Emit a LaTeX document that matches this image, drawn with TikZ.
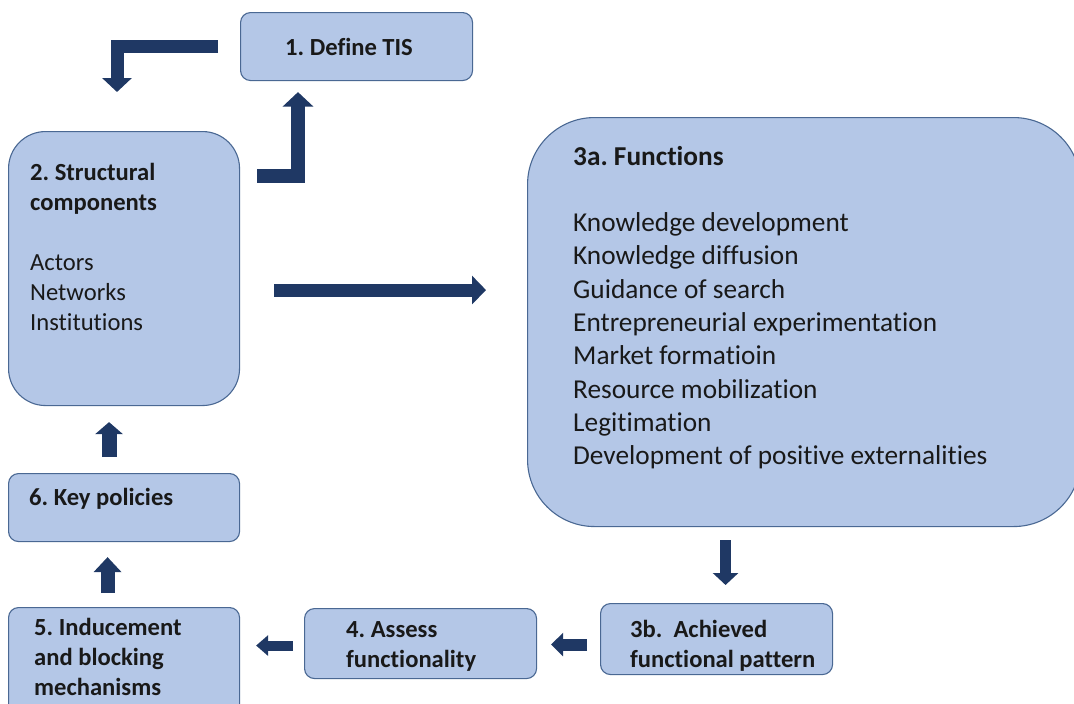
\documentclass[tikz,border=0pt]{standalone}
\usepackage{fontspec}
\setmainfont{Carlito}[Ligatures={NoCommon}]
\usetikzlibrary{arrows.meta}
\definecolor{boxfill}{HTML}{B4C7E7}
\definecolor{boxline}{HTML}{4A6893}
\definecolor{arrowc}{HTML}{1F3864}
\newcommand{\smallfs}{\fontsize{24.6}{30}\selectfont}
\newcommand{\bigfs}{\fontsize{27.3}{33.3}\selectfont}
\frenchspacing
\begin{document}
\begin{tikzpicture}[x=1pt,y=-1pt,
  box/.style={draw=boxline, line width=1.1pt, fill=boxfill, rounded corners=10pt,
              inner sep=0pt, anchor=north west},
  txt/.style={anchor=base west, inner sep=0pt, text=black!90},
  barrow/.style n args={3}{draw=arrowc, line width=#1, line join=miter,
              -{Triangle[width=#2,length=#3]}}]
\path[use as bounding box] (0,0) rectangle (1074,704);
\clip (0,0) rectangle (1074,704);

% boxes
\node[box, minimum width=232pt, minimum height=68pt] (b1) at (240,12) {};
\node[box, minimum width=231pt, minimum height=274pt, rounded corners=37pt] (b2) at (8,131) {};
\node[box, minimum width=553pt, minimum height=409pt, rounded corners=67pt] (b3a) at (527,117) {};
\node[box, minimum width=231pt, minimum height=68pt] (b6) at (8,473) {};
\node[box, minimum width=231pt, minimum height=115pt] (b5) at (8,607) {};
\node[box, minimum width=232pt, minimum height=70pt] (b4) at (304,608) {};
\node[box, minimum width=232pt, minimum height=71pt] (b3b) at (600,603) {};

% texts
\node[txt] (t1) at (285,55) {\smallfs\bfseries 1. Define TIS};
\node[txt] (t2) at (30,180) {\smallfs\begin{tabular}[t]{@{}l@{}}
  \bfseries 2. Structural\\ \bfseries components\\ \\ Actors\\ Networks\\ Institutions\end{tabular}};
\node[txt] (t3a) at (573,165) {\bigfs\begin{tabular}[t]{@{}l@{}}
  \bfseries 3a. Functions\\ \\ Knowledge development\\ Knowledge diffusion\\ Guidance of search\\
  Entrepreneurial experimentation\\ Market formatioin\\ Resource mobilization\\ Legitimation\\
  Development of positive externalities\end{tabular}};
\node[txt] (t6) at (29,505) {\smallfs\bfseries 6. Key policies};
\node[txt] (t5) at (34,635) {\smallfs\bfseries\begin{tabular}[t]{@{}l@{}}
  5. Inducement\\ and blocking\\ mechanisms\end{tabular}};
\node[txt] (t4) at (346,637) {\smallfs\bfseries\begin{tabular}[t]{@{}l@{}}
  4. Assess\\ functionality\end{tabular}};
\node[txt] (t3b) at (630,637) {\smallfs\bfseries\begin{tabular}[t]{@{}l@{}}
  3b.\ \ Achieved\\ functional pattern\end{tabular}};

% arrows
\draw[barrow={13pt}{29pt}{14pt}] ([xshift=-22pt]b1.west) -| ([xshift=109pt,yshift=39pt]b2.north west);
\draw[barrow={14.5pt}{30pt}{14.5pt}] ([xshift=17pt,yshift=-45pt]b2.north east) -| ([xshift=58pt,yshift=-11pt]b1.south west);

\coordinate (c1) at ([xshift=34pt,yshift=-21.5pt]b2.east);
\draw[barrow={13pt}{28pt}{14pt}, shorten >=41pt] (c1) -- (c1 -| b3a.west);

\coordinate (d1) at ([xshift=9pt]b3b.north);
\draw[barrow={11pt}{25pt}{12pt}, shorten <=13pt, shorten >=18pt] (d1 |- b3a.south) -- (d1);

\coordinate (e1) at ([yshift=-5.5pt]b3b.west);
\draw[barrow={12pt}{23pt}{12pt}, shorten <=13pt, shorten >=14pt] (e1) -- (e1 -| b4.east);

\coordinate (f1) at ([yshift=-2pt]b4.west);
\draw[barrow={10pt}{20pt}{12pt}, shorten <=11pt, shorten >=16pt] (f1) -- (f1 -| b5.east);

\coordinate (g1) at ([xshift=-16.5pt]b5.north);
\draw[barrow={14pt}{27pt}{15pt}, shorten <=14pt, shorten >=15pt] (g1) -- (g1 |- b6.south);

\coordinate (h1) at ([xshift=-15pt]b6.north);
\draw[barrow={15pt}{27pt}{12pt}, shorten <=16pt, shorten >=16pt] (h1) -- (h1 |- b2.south);
\end{tikzpicture}
\end{document}
